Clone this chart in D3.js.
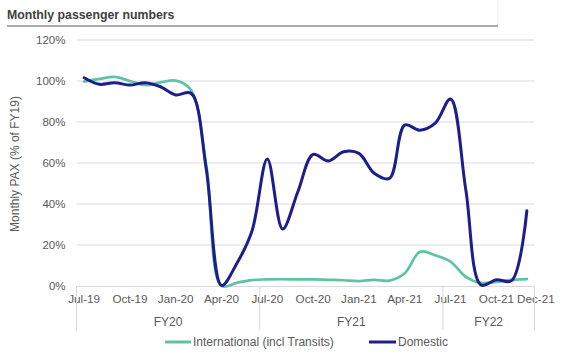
<!DOCTYPE html>
<html><head><meta charset="utf-8">
<script src="https://cdn.jsdelivr.net/npm/d3@7/dist/d3.min.js"></script>
<style>body{margin:0;background:#fff;}svg{display:block;font-family:Arial,"Liberation Sans",sans-serif;}</style>
</head><body>
<svg id="c" width="564" height="358"></svg>
<script>
const months = ["Jul-19","Aug-19","Sep-19","Oct-19","Nov-19","Dec-19","Jan-20","Feb-20","Mar-20","Apr-20","May-20","Jun-20",
"Jul-20","Aug-20","Sep-20","Oct-20","Nov-20","Dec-20","Jan-21","Feb-21","Mar-21","Apr-21","May-21","Jun-21",
"Jul-21","Aug-21","Sep-21","Oct-21","Nov-21","Dec-21"];
const tickLabels = ["Jul-19","Oct-19","Jan-20","Apr-20","Jul-20","Oct-20","Jan-21","Apr-21","Jul-21","Oct-21","Dec-21"];
const fiscalYears = ["FY20","FY21","FY22"];
const fyStart = ["Jul-19","Jul-20","Jul-21"];
const international = [99.7,101,102,100,98,99.3,100.2,95.6,59,0,1.6,2.9,3.2,3.3,3.2,3.2,3,2.8,2.4,3,2.6,6.2,16.7,15,11.9,4.5,1.5,2,3,3.4];
const domestic = [101.6,98.4,99.2,98,99.2,97.2,93.2,94,57,0.3,11,27,62,27.8,46,64.2,61,65.5,64.7,55,52.5,78.5,76,79.4,91.2,47,0.5,3,2.6,36.7];
const yTicks = [0,20,40,60,80,100,120];
const seriesNames = ["International (incl Transits)","Domestic"];
const colors = ["#5cc4a4","#1c1e8c"];

const svg = d3.select("#c");
const pLeft = 76.5, pRight = 534.5, pTop = 40, pBottom = 286;
const x = d3.scaleBand().domain(months).range([pLeft, pRight]);
const y = d3.scaleLinear().domain([0,120]).range([pBottom, pTop]);
const cx = m => x(m) + x.bandwidth()/2;
const FONT = "Arial,'Liberation Sans',sans-serif";

// title
svg.append("text").attr("x",7).attr("y",19).attr("font-size",12.3).attr("font-weight","bold").attr("fill","#404040").text("Monthly passenger numbers");
svg.append("line").attr("x1",7).attr("x2",498).attr("y1",26).attr("y2",26).attr("stroke","#595959").attr("stroke-width",1.2);
svg.append("line").attr("x1",498).attr("x2",498).attr("y1",0).attr("y2",25).attr("stroke","#f0f0f0").attr("stroke-width",1);

// gridlines
svg.append("g").selectAll("line").data(yTicks.filter(d=>d>0)).join("line")
  .attr("x1",pLeft).attr("x2",pRight).attr("y1",d=>y(d)).attr("y2",d=>y(d))
  .attr("stroke","#d9d9d9").attr("stroke-width",1);

// y axis labels
const yAxis = svg.append("g").attr("transform",`translate(${pLeft},0)`)
  .call(d3.axisLeft(y).tickValues(yTicks).tickFormat(d=>d+"%").tickSize(0).tickPadding(11));
yAxis.select(".domain").remove();
yAxis.selectAll("text").attr("font-size",11.5).attr("fill","#595959").attr("font-family",FONT);

svg.append("text").attr("transform",`translate(19,164) rotate(-90)`).attr("text-anchor","middle")
  .attr("font-size",12).attr("fill","#595959").text("Monthly PAX (% of FY19)");

// x axis
const xAxis = svg.append("g").attr("transform",`translate(0,${pBottom})`)
  .call(d3.axisBottom(x).tickValues(tickLabels).tickSize(0).tickPadding(9));
xAxis.select(".domain").attr("stroke","#d9d9d9");
xAxis.selectAll("text").attr("font-size",11.7).attr("fill","#595959").attr("font-family",FONT);
xAxis.selectAll(".tick").filter(d=>d==="Dec-21").select("text").attr("dx",9);

// FY dividers
const bounds = fyStart.map(m=>x(m)).concat([pRight]);
svg.append("g").selectAll("line").data(bounds).join("line")
  .attr("x1",d=>d).attr("x2",d=>d).attr("y1",pBottom).attr("y2",330)
  .attr("stroke","#d9d9d9").attr("stroke-width",1);
svg.append("g").selectAll("text").data(fiscalYears).join("text")
  .attr("x",(d,i)=>(bounds[i]+bounds[i+1])/2).attr("y",326).attr("text-anchor","middle")
  .attr("font-size",12).attr("fill","#595959").text(d=>d);

// lines
const line = d3.line().x((d,i)=>cx(months[i])).y(d=>y(d)).curve(d3.curveCatmullRom.alpha(0.5));
[international, domestic].forEach((s,k)=>{
  svg.append("path").datum(s).attr("d",line).attr("fill","none")
    .attr("stroke",colors[k]).attr("stroke-width",k===1?3:2.7).attr("stroke-linejoin","round").attr("stroke-linecap","round");
});

// legend
const lg = [{x1:165,x2:191,tx:193},{x1:369,x2:396,tx:398}];
lg.forEach((l,k)=>{
  svg.append("line").attr("x1",l.x1).attr("x2",l.x2).attr("y1",342).attr("y2",342).attr("stroke",colors[k]).attr("stroke-width",3);
  svg.append("text").attr("x",l.tx).attr("y",346).attr("font-size",12).attr("fill","#595959").text(seriesNames[k]);
});
</script>
</body></html>
